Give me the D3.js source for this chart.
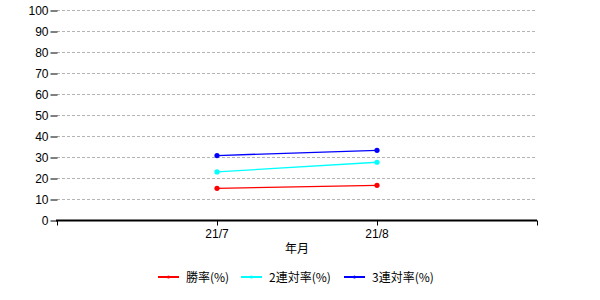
<!DOCTYPE html>
<html>
<head>
<meta charset="utf-8">
<script src="https://cdn.jsdelivr.net/npm/d3@7"></script>
<style>
  body { margin: 0; background: #fff; }
  svg { display: block; }
</style>
</head>
<body>
<svg id="chart" width="600" height="300"></svg>
<script>
const months = ["21/7", "21/8"];
const winRate = [15.1, 16.5];
const quinellaRate = [22.9, 27.5];
const showRate = [30.7, 33.2];
const seriesNames = ["勝率(%)", "2連対率(%)", "3連対率(%)"];
const seriesColors = ["#ff0000", "#00ffff", "#0000ff"];
const yTicks = d3.range(0, 101, 10);

const series = [winRate, quinellaRate, showRate].map((values, i) => ({
  name: seriesNames[i],
  color: seriesColors[i],
  values: values
}));

const margin = { top: 10, right: 63, bottom: 80, left: 57 };
const width = 600, height = 300;

const svg = d3.select("#chart");

const x = d3.scalePoint()
    .domain(months)
    .range([margin.left, width - margin.right])
    .padding(1);

const y = d3.scaleLinear()
    .domain([0, 100])
    .range([height - margin.bottom, margin.top]);

// gridlines
svg.append("g")
  .selectAll("line")
  .data(yTicks.filter(d => d > 0))
  .join("line")
    .attr("x1", margin.left)
    .attr("x2", width - margin.right)
    .attr("y1", d => Math.round(y(d)) + 0.5)
    .attr("y2", d => Math.round(y(d)) + 0.5)
    .attr("stroke", "#b4b4b4")
    .attr("stroke-dasharray", "3,2");

// y axis
const yAxis = svg.append("g")
    .attr("transform", `translate(${margin.left + 0.5},0.5)`)
    .call(d3.axisLeft(y).tickValues(yTicks).tickSize(7).tickPadding(2))
    .call(g => g.select(".domain").remove());
yAxis.selectAll("line").attr("stroke", "#000");
yAxis.selectAll("text")
    .attr("fill", "#000")
    .style("font", "12px 'Liberation Sans', Arial, sans-serif");

// x axis
const xAxis = svg.append("g")
    .attr("transform", `translate(0,${Math.round(y(0)) + 0.5})`);
xAxis.append("line")
    .attr("x1", margin.left - 1)
    .attr("x2", width - margin.right)
    .attr("stroke", "#000")
    .attr("stroke-width", 2);
const xTickPos = [margin.left, ...months.map(m => x(m)), width - margin.right];
xAxis.selectAll(".tick")
  .data(xTickPos)
  .join("line")
    .attr("x1", d => Math.round(d) + 0.5)
    .attr("x2", d => Math.round(d) + 0.5)
    .attr("y1", 0)
    .attr("y2", 5)
    .attr("stroke", "#000");
xAxis.selectAll("text")
  .data(months)
  .join("text")
    .attr("x", d => x(d))
    .attr("y", 17)
    .attr("text-anchor", "middle")
    .style("font", "12px 'Liberation Sans', Arial, sans-serif")
    .text(d => d);

svg.append("text")
    .attr("x", (margin.left + width - margin.right) / 2)
    .attr("y", 253)
    .attr("text-anchor", "middle")
    .style("font", "12px 'Noto Sans CJK JP', sans-serif")
    .text("年月");

// lines
const line = d3.line()
    .x((d, i) => x(months[i]))
    .y(d => y(d));

const sg = svg.append("g")
  .selectAll("g")
  .data(series)
  .join("g");

sg.append("path")
    .attr("d", d => line(d.values))
    .attr("fill", "none")
    .attr("stroke", d => d.color)
    .attr("stroke-width", 1.3);

sg.selectAll("circle")
  .data(d => d.values.map((v, i) => ({ v, i, color: d.color })))
  .join("circle")
    .attr("cx", d => x(months[d.i]))
    .attr("cy", d => y(d.v))
    .attr("r", 2.6)
    .attr("fill", d => d.color);

// legend
const legendX = [158, 241, 344];
const legend = svg.append("g")
  .selectAll("g")
  .data(series)
  .join("g")
    .attr("transform", (d, i) => `translate(${legendX[i]},277)`);
legend.append("line")
    .attr("x1", 0)
    .attr("x2", 21)
    .attr("stroke", d => d.color)
    .attr("stroke-width", 2);
legend.append("circle")
    .attr("cx", 10.5)
    .attr("r", 1.5)
    .attr("fill", d => d.color);
legend.append("text")
    .attr("x", 28)
    .attr("y", 4.5)
    .style("font", "12px 'Noto Sans CJK JP', sans-serif")
    .text(d => d.name);
</script>
</body>
</html>
